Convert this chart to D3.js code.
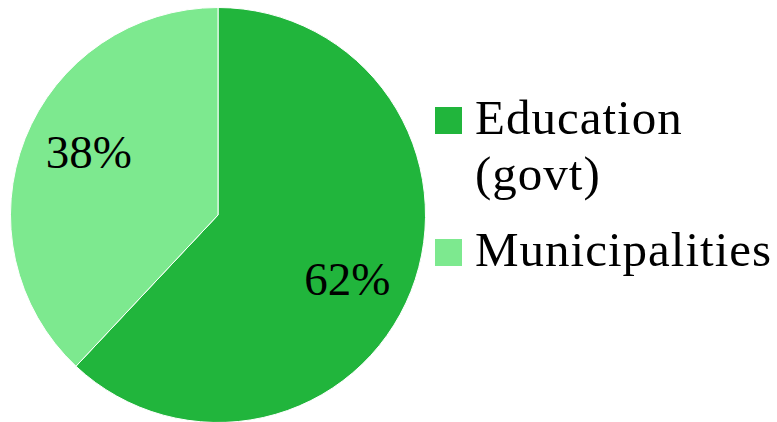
<!DOCTYPE html>
<html>
<head>
<script src="https://cdn.jsdelivr.net/npm/d3@7/dist/d3.min.js"></script>
<style>
  body { margin: 0; background: #fff; }
  text { font-family: 'Liberation Serif', serif; fill: #000; }
</style>
</head>
<body>
<svg width="777" height="422"></svg>
<script>
const categories = ['Education (govt)', 'Municipalities']
const legendLines = [['Education', '(govt)'], ['Municipalities']]
const shares = [62, 38]
const colors = ['#21b53c', '#7de98f']

const svg = d3.select('svg')
const cx = 218, cy = 215, radius = 207.5

const pie = d3.pie().sort(null).value(d => d)
const arcs = pie(shares)
const arc = d3.arc().innerRadius(0).outerRadius(radius)

const g = svg.append('g').attr('transform', `translate(${cx},${cy})`)

g.selectAll('path')
  .data(arcs)
  .join('path')
  .attr('d', arc)
  .attr('fill', (d, i) => colors[i])
  .attr('stroke', '#fff')
  .attr('stroke-width', 1)

// labels sit a little past the middle angle of each slice
const labelR = 144
const labelPos = d => {
  const a = (d.startAngle + d.endAngle) / 2 + 0.08
  return [labelR * Math.sin(a), -labelR * Math.cos(a)]
}

g.selectAll('text')
  .data(arcs)
  .join('text')
  .attr('transform', d => `translate(${labelPos(d)})`)
  .attr('text-anchor', 'middle')
  .attr('dy', '0.35em')
  .attr('font-size', 47)
  .text(d => d.data + '%')

// legend
const legendY = [107, 239]
const legend = svg.append('g')
  .selectAll('g')
  .data(categories)
  .join('g')
  .attr('transform', (d, i) => `translate(435,${legendY[i]})`)

legend.append('rect')
  .attr('width', 27)
  .attr('height', 27)
  .attr('fill', (d, i) => colors[i])

legend.each(function(d, i) {
  const t = d3.select(this).append('text')
    .attr('x', 40)
    .attr('y', 27)
    .attr('font-size', 49)
    .attr('letter-spacing', 1)
  legendLines[i].forEach((line, j) => {
    t.append('tspan').attr('x', 40).attr('dy', j === 0 ? 0 : 56).text(line)
  })
})
</script>
</body>
</html>
